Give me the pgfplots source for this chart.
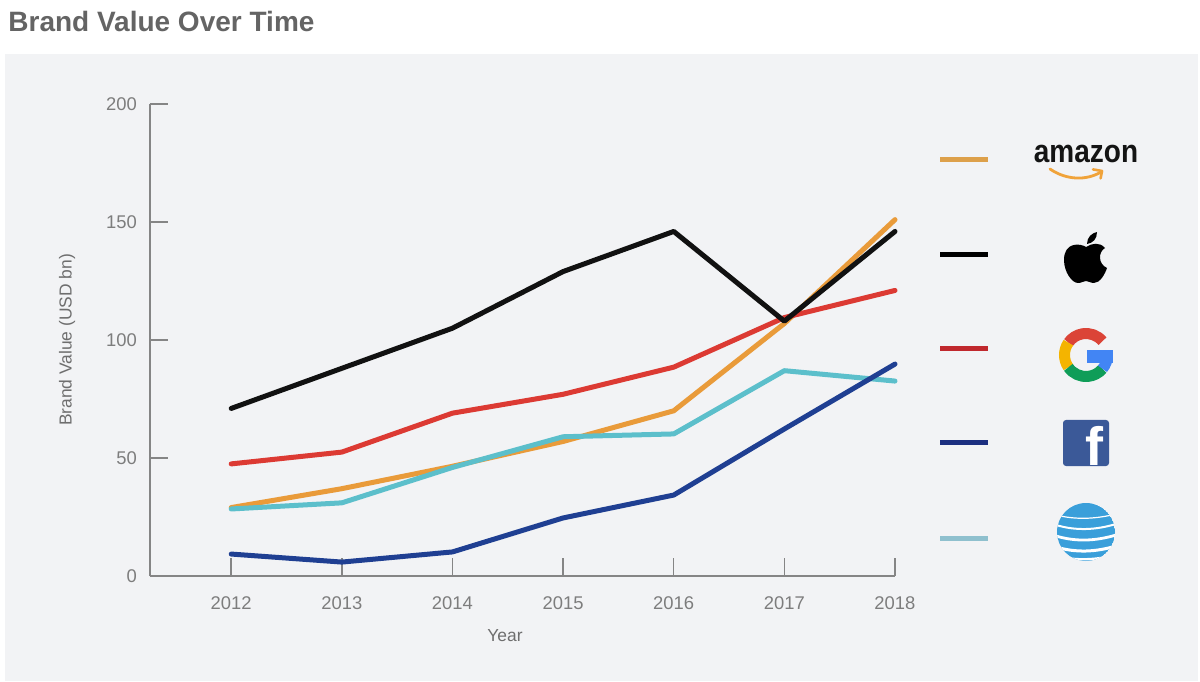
\documentclass[border=0pt]{standalone}
\usepackage{pgfplots}
\pgfplotsset{compat=1.18}
\usepackage{fontspec}
\setmainfont{Liberation Sans}

\definecolor{panel}{HTML}{F2F3F5}
\definecolor{axisgray}{HTML}{858585}
\definecolor{ticktext}{HTML}{7D7D7D}
\definecolor{labeltext}{HTML}{6E6E6E}
\definecolor{titlegray}{HTML}{646464}
\definecolor{amazonC}{HTML}{E99B3A}
\definecolor{appleC}{HTML}{111111}
\definecolor{googleC}{HTML}{DC3A33}
\definecolor{fbC}{HTML}{1F3F92}
\definecolor{attC}{HTML}{5CBFCB}

\pgfplotstableread{
year amazon apple google facebook att
2012 29   71  47.5  9.3 28.4
2013 37   88  52.5  5.9 31
2014 46.5 105 69    10.2 46
2015 57   129 77    24.6 59
2016 70   146 88.5  34.3 60.2
2017 107  108 109.5 62.3 87
2018 151  146 121   89.8 82.6
}\brand

\begin{document}
\begin{tikzpicture}
\useasboundingbox (0,0) rectangle (600pt,340.5pt);
\fill[white] (0,0) rectangle (600pt,340.5pt);
\fill[panel] (2.5pt,0) rectangle (599pt,313.5pt);
\node[anchor=base west, inner sep=0, text=titlegray,
      font=\bfseries\fontsize{14}{14}\selectfont] at (4pt,324.5pt) {Brand Value Over Time};

\begin{axis}[
    at={(75pt,52.5pt)}, anchor=south west,
    scale only axis, width=372.5pt, height=236pt,
    xmin=2011.266, xmax=2018, ymin=0, ymax=200,
    axis lines=left, axis line style={-, axisgray, line width=0.8pt},
    tick style={axisgray, line width=0.8pt},
    tick align=inside, major tick length=9pt,
    xtick={2012,...,2018}, ytick={0,50,100,150,200},
    xticklabel={\pgfmathprintnumber[1000 sep={}]{\tick}},
    /pgf/number format/assume math mode=true,
    ticklabel style={text=ticktext, font=\fontsize{9.2}{10}\selectfont},
    xticklabel style={yshift=-7pt},
    yticklabel style={xshift=-3pt},
    xlabel={Year}, ylabel={Brand Value (USD bn)},
    label style={text=labeltext, font=\fontsize{8.7}{10}\selectfont},
    xlabel style={at={(axis description cs:0.4765,-0.1271)}, anchor=center},
    ylabel style={at={(axis description cs:-0.1114,0.5)}, anchor=center},
    clip=false,
    every axis plot/.append style={line width=2.5pt, line cap=round, line join=round},
  ]
  \addplot[amazonC] table[x=year, y=amazon] {\brand};
  \addplot[attC] table[x=year, y=att] {\brand};
  \addplot[fbC] table[x=year, y=facebook] {\brand};
  \addplot[googleC] table[x=year, y=google] {\brand};
  \addplot[appleC] table[x=year, y=apple] {\brand};
\end{axis}

% legend lines
\draw[line width=2.5pt, color={rgb,255:red,221;green,160;blue,74}] (470pt,260.5pt) -- (494pt,260.5pt);
\draw[line width=2.5pt, black] (470pt,213pt) -- (494pt,213pt);
\draw[line width=2.5pt, color={rgb,255:red,192;green,40;blue,45}] (470pt,166pt) -- (494pt,166pt);
\draw[line width=2.5pt, color={rgb,255:red,28;green,47;blue,128}] (470pt,119pt) -- (494pt,119pt);
\draw[line width=2.5pt, color={rgb,255:red,143;green,192;blue,206}] (470pt,71.5pt) -- (494pt,71.5pt);

% amazon
\node[inner sep=0, yscale=1.15, text={rgb,255:red,20;green,20;blue,20}, font=\bfseries\fontsize{14}{14}\selectfont]
  at (543pt,263.5pt) {amazon};
\draw[line width=1.4pt, color={rgb,255:red,240;green,163;blue,58}, line cap=round]
  (525pt,256pt) .. controls (533pt,250.5pt) and (543pt,250pt) .. (550.5pt,254.5pt);
\draw[line width=1.3pt, color={rgb,255:red,240;green,163;blue,58}, line cap=round, line join=round]
  (546.5pt,255.8pt) -- (551pt,255pt) -- (550.3pt,251.3pt);

% apple
\begin{scope}[shift={(543pt,211.5pt)}, x=0.5pt, y=0.5pt]
  \fill[black] (0,11) .. controls (-6,15) and (-22,16) .. (-22,-2)
    .. controls (-22,-14) and (-14,-25) .. (-8,-25)
    .. controls (-4,-25) and (-3,-23) .. (0,-23)
    .. controls (3,-23) and (4,-25) .. (8,-25)
    .. controls (14,-25) and (19,-16) .. (21,-10)
    .. controls (12,-6) and (12,6) .. (19,10)
    .. controls (14,16) and (6,15) .. (0,11) -- cycle;
  \fill[black] (1,14) .. controls (1,21) and (6,25) .. (11,26)
    .. controls (11,19) and (7,15) .. (1,14) -- cycle;
\end{scope}

% google
\begin{scope}[line width=5.5pt]
  \draw[color={rgb,255:red,219;green,68;blue,55}] (543pt,163pt) ++(40:10.75pt) arc[start angle=40, end angle=145, radius=10.75pt];
  \draw[color={rgb,255:red,244;green,180;blue,0}] (543pt,163pt) ++(145:10.75pt) arc[start angle=145, end angle=215, radius=10.75pt];
  \draw[color={rgb,255:red,15;green,157;blue,88}] (543pt,163pt) ++(215:10.75pt) arc[start angle=215, end angle=320, radius=10.75pt];
  \draw[color={rgb,255:red,66;green,133;blue,244}] (543pt,163pt) ++(320:10.75pt) arc[start angle=320, end angle=358, radius=10.75pt];
\end{scope}
\fill[color={rgb,255:red,66;green,133;blue,244}] (543.5pt,159pt) rectangle (556.5pt,165.5pt);

% facebook
\begin{scope}
  \fill[color={rgb,255:red,59;green,89;blue,152}, rounded corners=1.5pt] (531.5pt,107.5pt) rectangle (554.5pt,130.5pt);
  \clip (531.5pt,107.5pt) rectangle (554.5pt,130.5pt);
  \node[anchor=base, inner sep=0, text=white, font=\bfseries\fontsize{27}{27}\selectfont] at (547pt,107.5pt) {f};
\end{scope}

% at&t
\begin{scope}
  \clip (543pt,74.5pt) circle (14.5pt);
  \fill[color={rgb,255:red,58;green,159;blue,218}] (543pt,74.5pt) circle (14.5pt);
  \begin{scope}[shift={(543pt,74.5pt)}, x=0.5pt, y=0.5pt, white]
    \draw[line width=0.6pt] (-30,17) .. controls (-10,12) and (10,13) .. (30,18);
    \draw[line width=1.0pt] (-30,7) .. controls (-10,1) and (10,2) .. (30,8);
    \draw[line width=1.4pt] (-30,-4) .. controls (-10,-10) and (10,-9) .. (30,-3);
    \draw[line width=1.5pt] (-30,-15) .. controls (-10,-21) and (10,-20) .. (30,-14);
    \draw[line width=1.2pt] (-30,-24) .. controls (-10,-29) and (10,-28) .. (30,-23);
  \end{scope}
\end{scope}
\end{tikzpicture}
\end{document}
